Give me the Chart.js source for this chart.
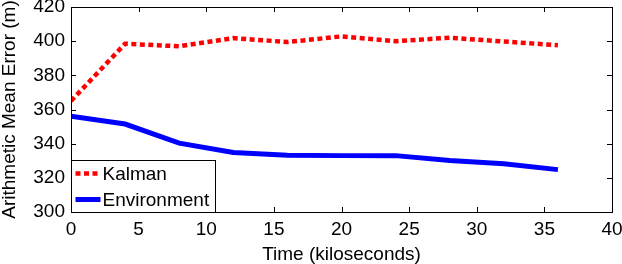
<!DOCTYPE html>
<html>
<head>
<meta charset="utf-8">
<script src="https://cdn.jsdelivr.net/npm/chart.js@4"></script>
<style>
  html, body { margin: 0; padding: 0; background: #fff; }
  #wrap { width: 622px; height: 264px; }
</style>
</head>
<body>
<div id="wrap"><canvas id="myChart" width="622" height="264"></canvas></div>
<script>
// values
var times = [0, 4, 8, 12, 16, 20, 24, 28, 32, 36]
var kalman = [365, 398.5, 397, 401.8, 399.5, 402.8, 400, 402, 399.8, 397.6]
var environment = [356, 351.5, 340.3, 334.8, 333.2, 333, 333, 330.2, 328.3, 324.8]
var xTicks = [0, 5, 10, 15, 20, 25, 30, 35, 40]
var yTicks = [300, 320, 340, 360, 380, 400, 420]

var fam = "'Liberation Sans', Arial, Helvetica, sans-serif"

function pts(ys){
    var out = []
    for(var i = 0; i <= times.length - 1; i++){
        out.push({x: times[i], y: ys[i]})
    }
    return out
}

// box round the plot with inward ticks on all four sides
var frame = {
    id: 'frame',
    afterDatasetsDraw(chart){
        const ctx = chart.ctx
        const a = chart.chartArea
        const xs = chart.scales.x
        const ys = chart.scales.y
        ctx.save()
        ctx.strokeStyle = '#000'
        ctx.lineWidth = 1
        ctx.beginPath()
        for(const v of xTicks){
            const px = Math.round(xs.getPixelForValue(v)) + 0.5
            ctx.moveTo(px, a.bottom); ctx.lineTo(px, a.bottom - 5)
            ctx.moveTo(px, a.top); ctx.lineTo(px, a.top + 5)
        }
        for(const v of yTicks){
            const py = Math.round(ys.getPixelForValue(v)) + 0.5
            ctx.moveTo(a.left, py); ctx.lineTo(a.left + 5, py)
            ctx.moveTo(a.right, py); ctx.lineTo(a.right - 5, py)
        }
        ctx.stroke()
        ctx.strokeRect(Math.round(a.left) + 0.5, Math.round(a.top) + 0.5,
            Math.round(a.right - a.left), Math.round(a.bottom - a.top))
        ctx.restore()
    }
}

// legend box in the lower left corner of the plot
var legendBox = {
    id: 'legendBox',
    afterDraw(chart){
        const ctx = chart.ctx
        const a = chart.chartArea
        const x0 = Math.round(a.left) + 0.5
        const y1 = Math.round(a.bottom) + 0.5
        const w = 144, h = 52
        ctx.save()
        ctx.fillStyle = '#fff'
        ctx.fillRect(x0, y1 - h, w, h)
        ctx.strokeStyle = '#000'
        ctx.lineWidth = 1
        ctx.strokeRect(x0, y1 - h, w, h)
        ctx.font = '19px ' + fam
        ctx.textBaseline = 'middle'
        ctx.fillStyle = '#000'
        chart.data.datasets.forEach(function(ds, i){
            const cy = y1 - h + 13 + i * 26
            ctx.beginPath()
            ctx.strokeStyle = ds.borderColor
            ctx.lineWidth = ds.borderWidth
            ctx.setLineDash(ds.borderDash || [])
            ctx.moveTo(x0 + 4, cy)
            ctx.lineTo(x0 + 29, cy)
            ctx.stroke()
            ctx.setLineDash([])
            ctx.fillText(ds.label, x0 + 31, cy + 1)
        })
        ctx.restore()
    }
}

const ctx = document.getElementById('myChart')
var char = new Chart(ctx, {
    type: 'line',
    data: {
        datasets: [{
            label: 'Kalman',
            data: pts(kalman),
            borderColor: '#ff0000',
            borderWidth: 4.5,
            borderDash: [5, 3.5],
            pointRadius: 0,
            tension: 0,
            fill: false
        }, {
            label: 'Environment',
            data: pts(environment),
            borderColor: '#0000ff',
            borderWidth: 5,
            pointRadius: 0,
            tension: 0,
            fill: false
        }]
    },
    options: {
        responsive: false,
        animation: false,
        layout: { padding: { top: 7, right: 10, left: 0, bottom: 0 } },
        scales: {
            x: {
                type: 'linear',
                min: 0,
                max: 40,
                afterBuildTicks: function(s){ s.ticks = xTicks.map(function(v){ return {value: v} }) },
                afterFit: function(s){ s.height = 52; s.paddingLeft = 0; s.paddingRight = 0 },
                grid: { display: false, drawTicks: false },
                border: { display: false },
                ticks: { color: '#000', padding: 8, maxRotation: 0, autoSkip: false,
                    font: { family: fam, size: 19, lineHeight: 1 } },
                title: { display: true, text: 'Time (kiloseconds)', color: '#000',
                    padding: { top: 0, bottom: 0 },
                    font: { family: fam, size: 19, lineHeight: 1 } }
            },
            y: {
                min: 300,
                max: 420,
                afterBuildTicks: function(s){ s.ticks = yTicks.map(function(v){ return {value: v} }) },
                afterFit: function(s){ s.width = 71; s.paddingTop = 0; s.paddingBottom = 0 },
                grid: { display: false, drawTicks: false },
                border: { display: false },
                ticks: { color: '#000', padding: 6, autoSkip: false,
                    font: { family: fam, size: 19, lineHeight: 1 } },
                title: { display: true, text: 'Arithmetic Mean Error (m)', color: '#000',
                    padding: { top: 0, bottom: 0 },
                    font: { family: fam, size: 19, lineHeight: 1 } }
            }
        },
        plugins: {
            legend: { display: false },
            tooltip: { enabled: false },
            title: { display: false }
        }
    },
    plugins: [frame, legendBox]
})
</script>
</body>
</html>
